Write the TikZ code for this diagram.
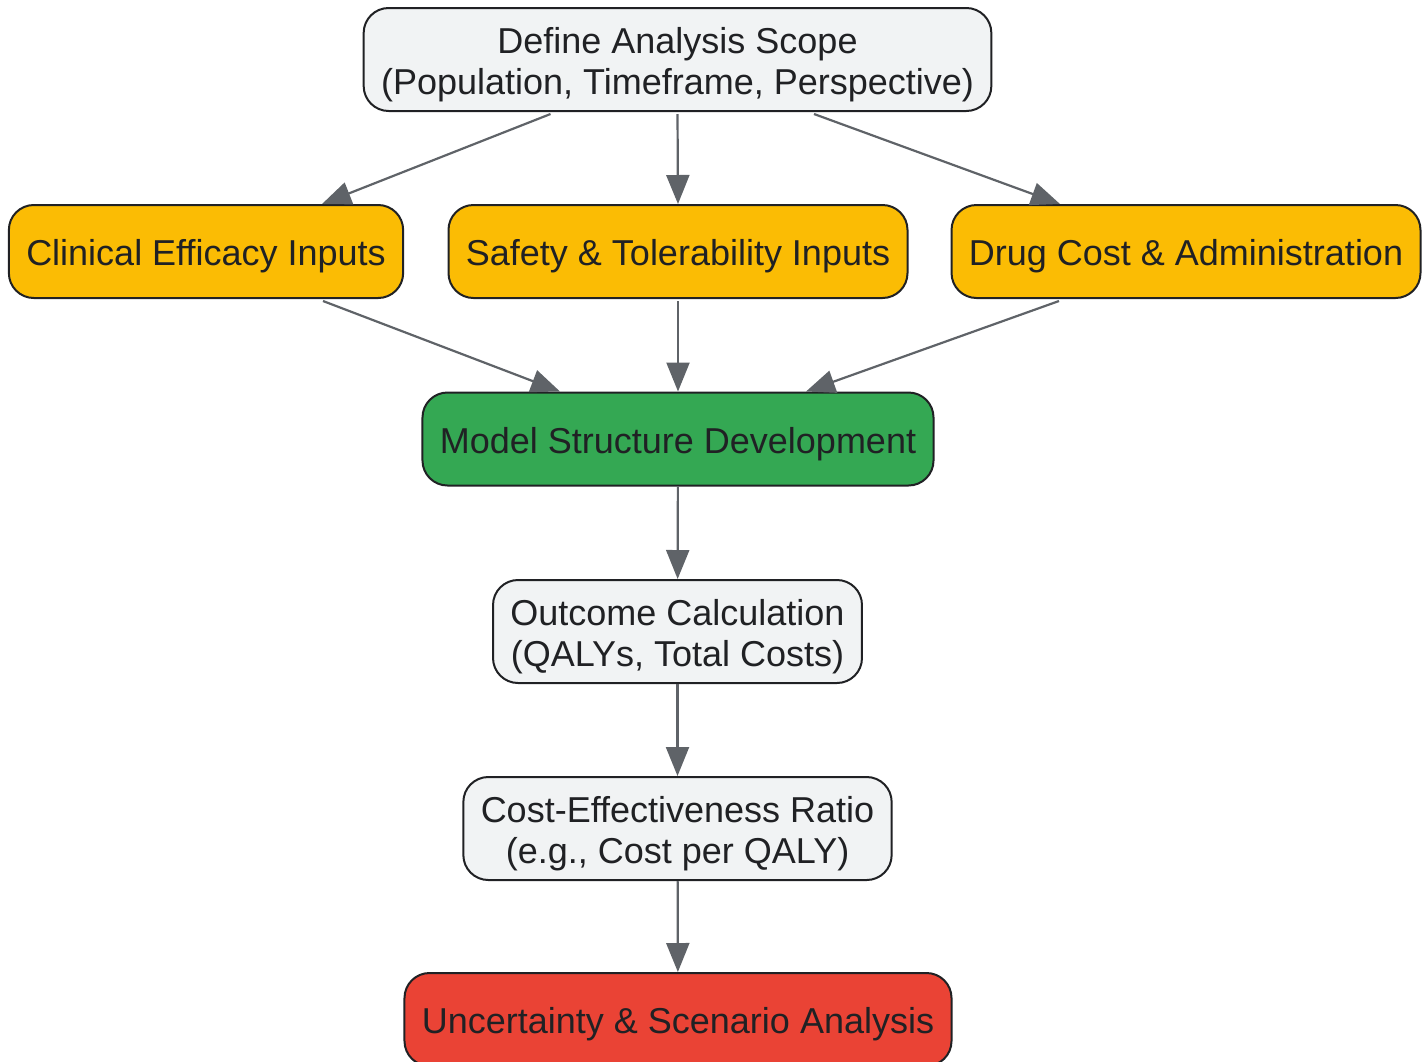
\documentclass[tikz,border=0pt]{standalone}
\usepackage{fontspec}
\setmainfont{Liberation Sans}
\usepackage{xcolor}
\usepackage{tikz}
\usetikzlibrary{arrows.meta, calc}
\definecolor{textdark}{RGB}{32, 33, 36}
\definecolor{plainfill}{RGB}{241, 243, 244}
\definecolor{inputfill}{RGB}{251, 188, 4}
\definecolor{modelfill}{RGB}{52, 168, 83}
\definecolor{riskfill}{RGB}{234, 67, 53}
\definecolor{arrowgray}{RGB}{95, 99, 104}

\tikzset{
    box/.style={draw=textdark, line width=1pt, rounded corners=12.5pt, text=textdark,
        align=center, inner xsep=8.7pt, minimum height=46.5pt,
        font=\fontsize{18}{20.5}\selectfont,
        execute at begin node={\rule{0pt}{18pt}}},
    plainbox/.style={box, fill=plainfill, minimum height=51.5pt,
        execute at begin node={\rule{0pt}{38.5pt}}},
    inputbox/.style={box, fill=inputfill},
    modelbox/.style={box, fill=modelfill},
    riskbox/.style={box, fill=riskfill},
    flow/.style={-{Triangle[length=14.5pt, width=11.5pt]}, draw=arrowgray, line width=1.1pt}
}

\begin{document}
\begin{tikzpicture}[x=0.5pt, y=-0.5pt]
        \useasboundingbox (0,0) rectangle (1428,1061);

        % 范围
        \node[plainbox] (scope) at (677.5, 59.5) {Define Analysis Scope\\(Population, Timeframe, Perspective)};

        % 输入
        \node[inputbox] (clinical) at (206, 251.5) {Clinical Efficacy Inputs};
        \node[inputbox] (safety) at (678, 251.5) {Safety \& Tolerability Inputs};
        \node[inputbox] (drug) at (1186, 251.5) {Drug Cost \& Administration};

        % 模型与结果
        \node[modelbox] (model) at (678, 439) {Model Structure Development};
        \node[plainbox] (outcome) at (677.5, 631.5) {Outcome Calculation\\(QALYs, Total Costs)};
        \node[plainbox] (ratio) at (677.5, 828.5) {Cost-Effectiveness Ratio\\(e.g., Cost per QALY)};
        \node[riskbox] (uncert) at (678, 1019.5) {Uncertainty \& Scenario Analysis};

        % 箭头
        \draw[flow] ($(scope.south)+(-127,2)$) -- ($(clinical.north)+(116,0)$);
        \draw[flow] ($(scope.south)+(0,2)$) -- (safety.north);
        \draw[flow] ($(scope.south)+(136.5,2)$) -- ($(drug.north)+(-126,0)$);

        \draw[flow] ($(clinical.south)+(117,2)$) -- ($(model.north)+(-118,0)$);
        \draw[flow] ($(safety.south)+(0,2)$) -- (model.north);
        \draw[flow] ($(drug.south)+(-127,2)$) -- ($(model.north)+(128,0)$);

        \draw[flow] (model) -- (outcome);
        \draw[flow] (outcome) -- (ratio);
        \draw[flow] (ratio) -- (uncert);

    \end{tikzpicture}
\end{document}
